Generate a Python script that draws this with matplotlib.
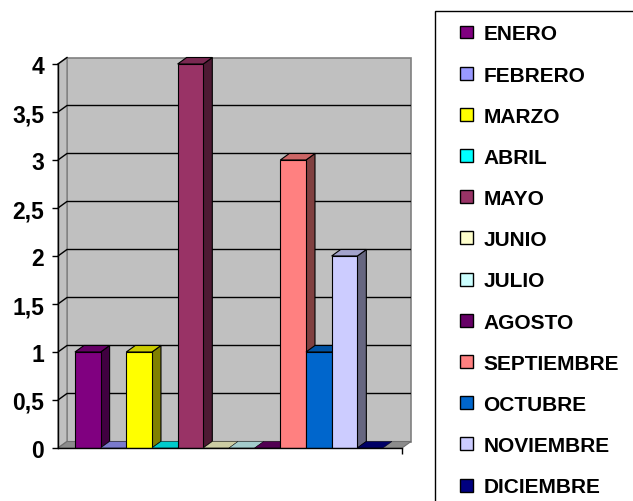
import matplotlib
matplotlib.use("Agg")
import matplotlib.pyplot as plt
from matplotlib.patches import Polygon, Patch, Rectangle
import matplotlib.colors as mcolors

# ---- data ----
months = ["ENERO", "FEBRERO", "MARZO", "ABRIL", "MAYO", "JUNIO", "JULIO",
          "AGOSTO", "SEPTIEMBRE", "OCTUBRE", "NOVIEMBRE", "DICIEMBRE"]
values = [1, 0, 1, 0, 4, 0, 0, 0, 3, 1, 2, 0]
colors = ["#800080", "#9999FF", "#FFFF00", "#00FFFF", "#993366", "#FFFFCC",
          "#CCFFFF", "#660066", "#FF8080", "#0066CC", "#CCCCFF", "#000080"]
yticks = [0, 0.5, 1, 1.5, 2, 2.5, 3, 3.5, 4]
ytick_labels = ["0", "0,5", "1", "1,5", "2", "2,5", "3", "3,5", "4"]

FONT = "Liberation Sans"

W, H = 633, 502
fig = plt.figure(figsize=(W / 100, H / 100), dpi=100)
fig.patch.set_facecolor("white")

# axes: front plane, pixel box x 58..402, y(0)=449, y(4)=65 (top-down)
ax_l, ax_r, ax_y0, ax_y4 = 58, 402, 449, 65
ax = fig.add_axes([ax_l / W, (H - ax_y0) / H, (ax_r - ax_l) / W, (ax_y0 - ax_y4) / H])
ax.set_facecolor("none")

xl, xr = -0.66, 12.74
ax.set_xlim(xl, xr)
ax.set_ylim(0, 4)

px_x = (ax_r - ax_l) / (xr - xl)
px_y = (ax_y0 - ax_y4) / 4.0
DX = 9.0 / px_x
DY = 6.5 / px_y

wall = "#C0C0C0"
wall_edge = "#808080"
# back wall
ax.add_patch(Polygon([(xl + DX, DY), (xr + DX, DY), (xr + DX, 4 + DY), (xl + DX, 4 + DY)],
                     closed=True, facecolor=wall, edgecolor=wall_edge, lw=1.2,
                     zorder=0.5, clip_on=False))
# side wall
ax.add_patch(Polygon([(xl, 0), (xl, 4), (xl + DX, 4 + DY), (xl + DX, DY)],
                     closed=True, facecolor=wall, edgecolor=wall_edge, lw=1.0,
                     zorder=0.5, clip_on=False))
# gridlines
for v in yticks[1:-1]:
    ax.plot([xl, xl + DX, xr + DX], [v, v + DY, v + DY], color="black", lw=1.0,
            zorder=0.6, clip_on=False, solid_capstyle="butt")
ax.plot([xl, xl + DX], [4, 4 + DY], color="black", lw=1.0, zorder=0.6, clip_on=False)
# floor
ax.add_patch(Polygon([(xl, 0), (xr, 0), (xr + DX, DY), (xl + DX, DY)],
                     closed=True, facecolor="#8C8C8C", edgecolor="#707070", lw=0.8,
                     zorder=0.7, clip_on=False))


def shade(c, f):
    r, g, b = mcolors.to_rgb(c)
    return (r * f, g * f, b * f)


x = list(range(len(values)))
bars = ax.bar(x, values, width=1.0, align="edge", color=colors, edgecolor="black",
              linewidth=0.8)
for i, (b, v, c) in enumerate(zip(bars, values, colors)):
    z = 2 + i * 0.01
    x0 = b.get_x()
    x1 = x0 + b.get_width()
    h = b.get_height()
    if h > 0:
        ax.add_patch(Polygon([(x1, 0), (x1 + DX, DY), (x1 + DX, h + DY), (x1, h)],
                             closed=True, facecolor=shade(c, 0.5), edgecolor="black",
                             lw=0.8, zorder=z, clip_on=False))
    ax.add_patch(Polygon([(x0, h), (x1, h), (x1 + DX, h + DY), (x0 + DX, h + DY)],
                         closed=True, facecolor=shade(c, 0.8), edgecolor="black",
                         lw=0.8 if h > 0 else 0.3, zorder=z, clip_on=False))
    b.set_zorder(z + 0.005)

# axes styling
for s in ["top", "right"]:
    ax.spines[s].set_visible(False)
ax.spines["left"].set_color("black")
ax.spines["bottom"].set_color("black")
ax.spines["left"].set_linewidth(1.0)
ax.spines["bottom"].set_linewidth(1.0)
ax.spines["left"].set_zorder(3)
ax.spines["bottom"].set_zorder(3)
ax.set_yticks(yticks)
ax.set_yticklabels(ytick_labels, fontfamily=FONT, fontweight="bold", fontsize=16.5)
ax.tick_params(axis="y", direction="out", length=4, width=1, pad=6, colors="black")
ax.set_xticks([xr])
ax.set_xticklabels([""])
ax.tick_params(axis="x", direction="out", length=4, width=1)

# legend frame (extends beyond figure)
fig.patches.append(Rectangle((435 / W, -0.05), 0.5, (H - 12) / H + 0.05,
                             transform=fig.transFigure, facecolor="white",
                             edgecolor="black", lw=1.0, zorder=0))
handles = [Patch(facecolor=c, edgecolor="black", lw=1.0) for c in colors]
leg = fig.legend(handles, months, loc="upper left",
                 bbox_to_anchor=(452 / W, (H - 17) / H), frameon=False,
                 prop={"family": FONT, "weight": "bold", "size": 15},
                 handlelength=0.62, handleheight=0.58, handletextpad=0.48,
                 labelspacing=1.065, borderaxespad=0)

fig.savefig("out.png", dpi=100)
